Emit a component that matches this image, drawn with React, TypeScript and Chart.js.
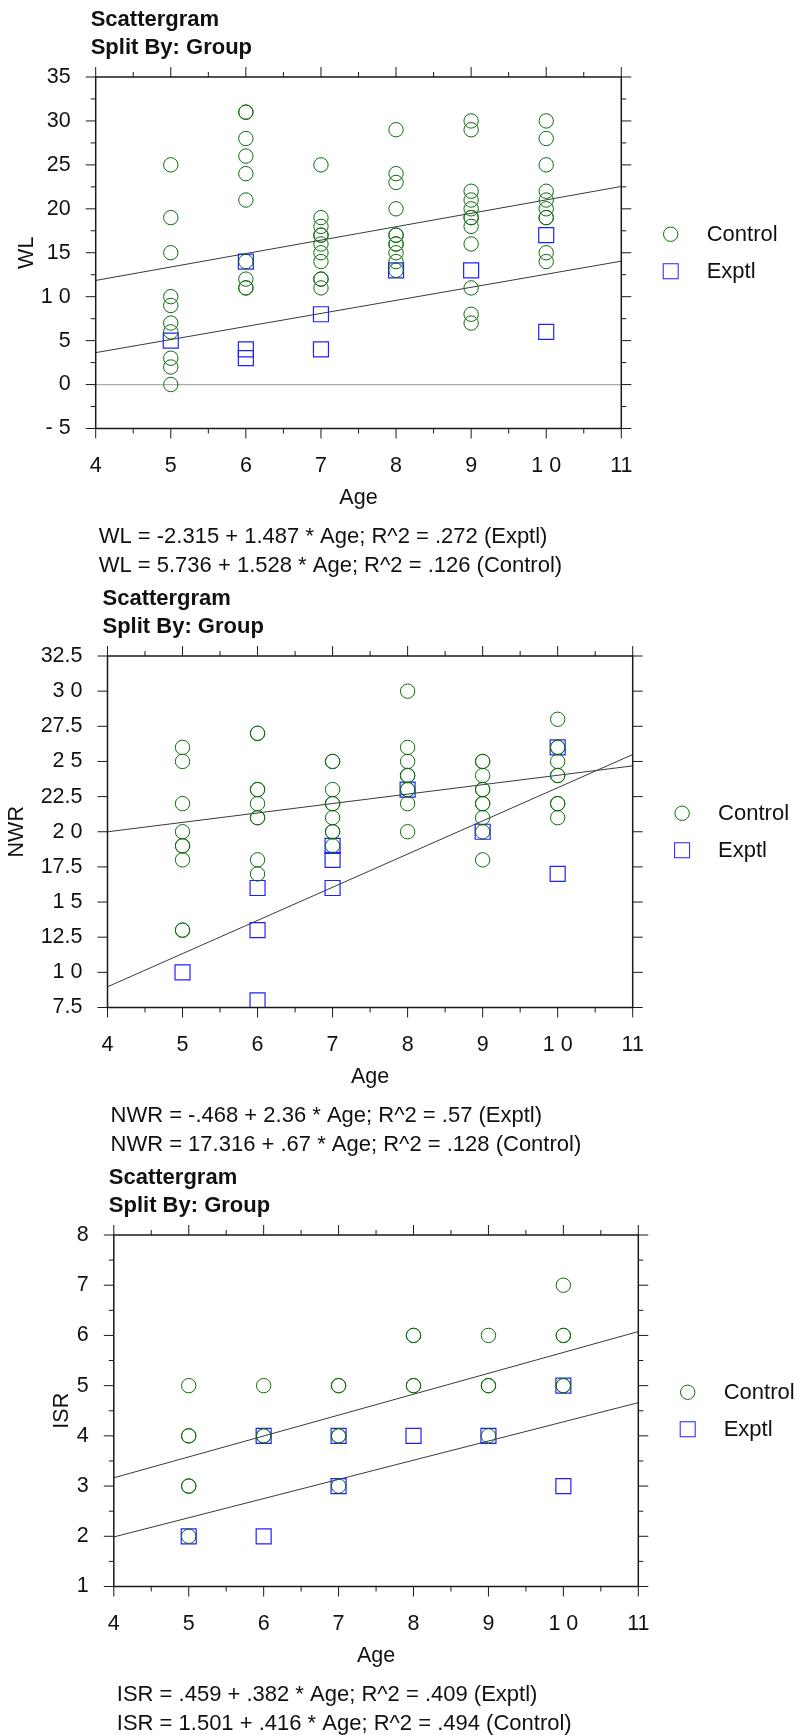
import { useEffect, useRef } from 'react'
import { Chart, registerables, type ChartConfiguration, type Plugin } from 'chart.js'

Chart.register(...registerables)

const FONT = '"Liberation Sans", Arial, Helvetica, sans-serif'
const GREEN = '#0d6b0d'
const BLUE = '#2020ff'
const INK = '#111111'

const ages = [5, 6, 7, 8, 9, 10]
const xTickLabels = ['4', '5', '6', '7', '8', '9', '1 0', '11']
const groupNames = ['Control', 'Exptl']

// WL
const wlTickLabels = ['- 5', '0', '5', '1 0', '15', '20', '25', '30', '35']
const wlControl = [
  [25, 19, 15, 10, 9, 7, 6, 3, 2, 0],
  [31, 31, 28, 26, 24, 21, 14, 12, 11, 11],
  [25, 19, 18, 17, 17, 16, 15, 14, 12, 12, 11],
  [29, 24, 23, 20, 17, 17, 16, 16, 15, 14, 13],
  [30, 29, 22, 21, 20, 19, 19, 18, 16, 11, 8, 7],
  [30, 28, 25, 22, 21, 20, 19, 19, 15, 14],
]
const wlExptl = [[5], [14, 4, 3], [8, 4], [13], [13], [17, 6]]
const wlExptlFit = [-2.315, 1.487]
const wlControlFit = [5.736, 1.528]
const wlFormulas = [
  'WL = -2.315 + 1.487 * Age; R^2 = .272 (Exptl)',
  'WL = 5.736 + 1.528 * Age; R^2 = .126 (Control)',
]

// NWR
const nwrTickLabels = ['7.5', '1 0', '12.5', '1 5', '17.5', '2 0', '22.5', '2 5', '27.5', '3 0', '32.5']
const nwrControl = [
  [26, 25, 22, 20, 19, 19, 18, 13, 13],
  [27, 27, 23, 23, 22, 21, 21, 18, 17],
  [25, 25, 23, 22, 22, 21, 20, 20, 19],
  [30, 26, 25, 24, 24, 23, 23, 22, 20],
  [25, 25, 24, 23, 23, 22, 22, 21, 20, 18],
  [28, 26, 26, 25, 24, 24, 22, 22, 21],
]
const nwrExptl = [[10], [16, 13, 8], [19, 18, 16], [23], [20], [26, 17]]
const nwrExptlFit = [-0.468, 2.36]
const nwrControlFit = [17.316, 0.67]
const nwrFormulas = [
  'NWR = -.468 + 2.36 * Age; R^2 = .57 (Exptl)',
  'NWR = 17.316 + .67 * Age; R^2 = .128 (Control)',
]

// ISR
const isrTickLabels = ['1', '2', '3', '4', '5', '6', '7', '8']
const isrControl = [
  [5, 4, 4, 3, 3, 2],
  [5, 4, 4],
  [5, 5, 4, 4, 3],
  [6, 6, 5, 5],
  [6, 5, 5, 4],
  [7, 6, 6, 5, 5],
]
const isrExptl = [[2], [4, 2], [4, 3], [4], [4], [5, 3]]
const isrExptlFit = [0.459, 0.382]
const isrControlFit = [1.501, 0.416]
const isrFormulas = [
  'ISR = .459 + .382 * Age; R^2 = .409 (Exptl)',
  'ISR = 1.501 + .416 * Age; R^2 = .494 (Control)',
]

type PanelSpec = {
  yName: string
  yMin: number
  yMax: number
  yStep: number
  yTickLabels: string[]
  yMinor: boolean
  zeroLine: boolean
  control: number[][]
  exptl: number[][]
  controlFit: number[]
  exptlFit: number[]
  formulas: string[]
  left: number
  right: number
  yTitlePad: number
  height: number
}

const panels: PanelSpec[] = [
  {
    yName: 'WL', yMin: -5, yMax: 35, yStep: 5, yTickLabels: wlTickLabels, yMinor: true, zeroLine: true,
    control: wlControl, exptl: wlExptl, controlFit: wlControlFit, exptlFit: wlExptlFit, formulas: wlFormulas,
    left: 95.7, right: 621.3, yTitlePad: 14, height: 579,
  },
  {
    yName: 'NWR', yMin: 7.5, yMax: 32.5, yStep: 2.5, yTickLabels: nwrTickLabels, yMinor: false, zeroLine: false,
    control: nwrControl, exptl: nwrExptl, controlFit: nwrControlFit, exptlFit: nwrExptlFit, formulas: nwrFormulas,
    left: 107.5, right: 632.7, yTitlePad: 3.8, height: 579,
  },
  {
    yName: 'ISR', yMin: 1, yMax: 8, yStep: 1, yTickLabels: isrTickLabels, yMinor: true, zeroLine: false,
    control: isrControl, exptl: isrExptl, controlFit: isrControlFit, exptlFit: isrExptlFit, formulas: isrFormulas,
    left: 113.8, right: 638.3, yTitlePad: 49, height: 577,
  },
]

const AREA_TOP = 77
const AREA_BOTTOM = 428.5
const X_AXIS_HEIGHT = 82.4
const LABEL_SIZE = 21.5

const toPoints = (groups: number[][]) =>
  ages.flatMap((age, i) => groups[i].map((value) => ({ x: age, y: value })))

const fitLine = (fit: number[]) => [
  { x: 4, y: fit[0] + fit[1] * 4 },
  { x: 11, y: fit[0] + fit[1] * 11 },
]

const line = (ctx: CanvasRenderingContext2D, x1: number, y1: number, x2: number, y2: number) => {
  ctx.beginPath()
  ctx.moveTo(x1, y1)
  ctx.lineTo(x2, y2)
  ctx.stroke()
}

const decorPlugin: Plugin<'scatter'> = {
  id: 'decor',
  beforeDatasetsDraw(chart) {
    const opts = (chart.options.plugins as any).decor as PanelSpec
    if (!opts.zeroLine) return
    const { ctx, chartArea } = chart
    const py = chart.scales.y.getPixelForValue(0)
    ctx.save()
    ctx.strokeStyle = '#ababab'
    ctx.lineWidth = 1.3
    line(ctx, chartArea.left, py, chartArea.right, py)
    ctx.restore()
  },
  afterDraw(chart) {
    const opts = (chart.options.plugins as any).decor as PanelSpec
    const { ctx, chartArea } = chart
    const { left, right, top, bottom } = chartArea
    const xs = chart.scales.x
    const ys = chart.scales.y
    ctx.save()

    // frame and ticks
    ctx.strokeStyle = '#1a1a1a'
    ctx.lineWidth = 1.5
    ctx.strokeRect(left, top, right - left, bottom - top)
    ctx.lineWidth = 1
    const xt = xs.ticks.map((t) => t.value)
    xt.forEach((v, i) => {
      const px = xs.getPixelForValue(v)
      line(ctx, px, bottom, px, bottom + 10)
      line(ctx, px, top, px, top - 10)
      if (i < xt.length - 1) {
        const mx = xs.getPixelForValue((v + xt[i + 1]) / 2)
        line(ctx, mx, bottom, mx, bottom + 5)
        line(ctx, mx, top, mx, top - 5)
      }
    })
    const yt = ys.ticks.map((t) => t.value)
    yt.forEach((v, i) => {
      const py = ys.getPixelForValue(v)
      line(ctx, left - 10, py, left, py)
      line(ctx, right, py, right + 10, py)
      if (opts.yMinor && i < yt.length - 1) {
        const my = ys.getPixelForValue((v + yt[i + 1]) / 2)
        line(ctx, left - 5, my, left, my)
        line(ctx, right, my, right + 5, my)
      }
    })

    // titles
    ctx.fillStyle = INK
    ctx.textAlign = 'left'
    ctx.textBaseline = 'alphabetic'
    ctx.font = `bold 22px ${FONT}`
    ctx.fillText('Scattergram', left - 5, 26)
    ctx.fillText('Split By: Group', left - 5, 54.3)

    // regression formulas
    ctx.font = `22px ${FONT}`
    ctx.fillText(opts.formulas[0], left + 3, 543)
    ctx.fillText(opts.formulas[1], left + 3, 571.5)

    // legend
    const cy = (top + bottom) / 2
    const mx = right + 49.4
    ctx.lineWidth = 1
    ctx.strokeStyle = GREEN
    ctx.beginPath()
    ctx.arc(mx, cy - 18.5, 7.2, 0, Math.PI * 2)
    ctx.stroke()
    ctx.strokeStyle = BLUE
    ctx.strokeRect(mx - 7.5, cy + 18.5 - 7.5, 15, 15)
    ctx.textBaseline = 'middle'
    ctx.fillText(groupNames[0], right + 85.4, cy - 18)
    ctx.fillText(groupNames[1], right + 85.4, cy + 19)
    ctx.restore()
  },
}

const buildConfig = (spec: PanelSpec): ChartConfiguration<'scatter'> => {
  const tickFont = { family: FONT, size: LABEL_SIZE }
  return {
    type: 'scatter',
    data: {
      datasets: [
        {
          label: groupNames[0],
          data: toPoints(spec.control),
          pointStyle: 'circle',
          pointRadius: 7.2,
          borderColor: GREEN,
          backgroundColor: 'rgba(0,0,0,0)',
          borderWidth: 1,
        },
        {
          label: groupNames[1],
          data: toPoints(spec.exptl),
          pointStyle: 'rect',
          pointRadius: 10.6,
          borderColor: BLUE,
          backgroundColor: 'rgba(0,0,0,0)',
          borderWidth: 1.2,
        },
        {
          label: 'Exptl fit',
          data: fitLine(spec.exptlFit),
          showLine: true,
          pointRadius: 0,
          borderColor: '#3a3a3a',
          borderWidth: 1,
        },
        {
          label: 'Control fit',
          data: fitLine(spec.controlFit),
          showLine: true,
          pointRadius: 0,
          borderColor: '#3a3a3a',
          borderWidth: 1,
        },
      ],
    },
    options: {
      animation: false,
      responsive: false,
      events: [],
      layout: {
        padding: {
          left: 0,
          right: 795 - spec.right,
          top: AREA_TOP,
          bottom: spec.height - AREA_BOTTOM - X_AXIS_HEIGHT,
        },
      },
      scales: {
        x: {
          type: 'linear',
          position: 'bottom',
          min: 4,
          max: 11,
          ticks: {
            stepSize: 1,
            padding: 25.1,
            color: INK,
            font: tickFont,
            maxRotation: 0,
            autoSkip: false,
            callback: (_v, i) => xTickLabels[i] ?? '',
          },
          grid: { display: false, drawTicks: false },
          border: { display: false },
          title: { display: true, text: 'Age', color: INK, font: tickFont, padding: { top: 0, bottom: 0 } },
          afterFit: (scale) => {
            scale.height = X_AXIS_HEIGHT
          },
        },
        y: {
          type: 'linear',
          position: 'left',
          min: spec.yMin,
          max: spec.yMax,
          ticks: {
            stepSize: spec.yStep,
            padding: 25,
            color: INK,
            font: tickFont,
            autoSkip: false,
            callback: (_v, i) => spec.yTickLabels[i] ?? '',
          },
          grid: { display: false, drawTicks: false },
          border: { display: false },
          title: {
            display: true,
            text: spec.yName,
            color: INK,
            font: tickFont,
            padding: { top: spec.yTitlePad, bottom: 0 },
          },
          afterFit: (scale) => {
            scale.width = spec.left
          },
        },
      },
      plugins: {
        legend: { display: false },
        tooltip: { enabled: false },
        decor: spec,
      } as any,
    },
    plugins: [decorPlugin],
  }
}

const ScatterPanel = ({ spec }: { spec: PanelSpec }) => {
  const canvasRef = useRef<HTMLCanvasElement | null>(null)

  useEffect(() => {
    if (!canvasRef.current) {
      return undefined
    }
    const chart = new Chart(canvasRef.current, buildConfig(spec))
    return () => {
      chart.destroy()
    }
  }, [spec])

  return (
    <canvas
      ref={canvasRef}
      width={795}
      height={spec.height}
      style={{ display: 'block', width: 795, height: spec.height }}
      aria-label={`Scattergram of ${spec.yName} by Age, split by group`}
    />
  )
}

const App = () => (
  <div style={{ position: 'absolute', left: 0, top: 0, width: 795, background: '#ffffff' }}>
    {panels.map((spec) => (
      <ScatterPanel key={spec.yName} spec={spec} />
    ))}
  </div>
)

export default App
